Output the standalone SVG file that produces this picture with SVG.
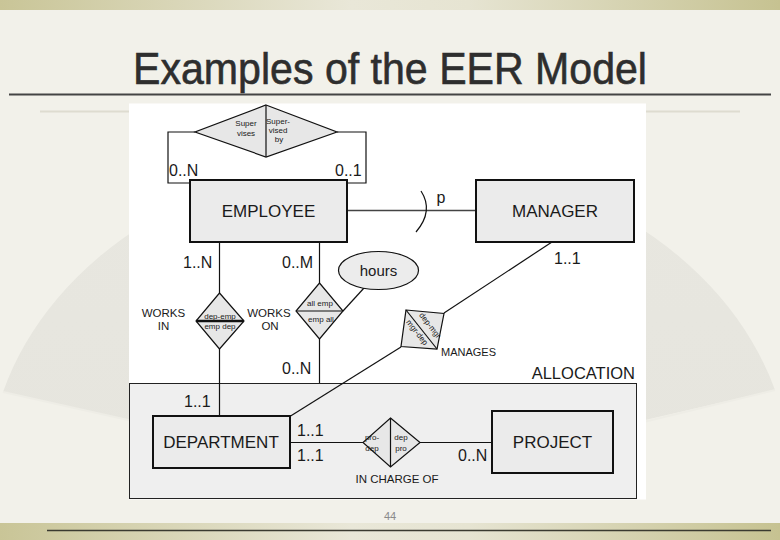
<svg xmlns="http://www.w3.org/2000/svg" width="780" height="540" viewBox="0 0 780 540">
<defs>
<linearGradient id="band" x1="0" y1="0" x2="1" y2="0">
<stop offset="0" stop-color="#c9c597"/>
<stop offset="0.45" stop-color="#e9e7d8"/>
<stop offset="0.6" stop-color="#e6e4d2"/>
<stop offset="1" stop-color="#c6c291"/>
</linearGradient>
<linearGradient id="fanG" x1="0" y1="0" x2="0" y2="1">
<stop offset="0" stop-color="#e8e7e0"/>
<stop offset="1" stop-color="#e6e5de"/>
</linearGradient>
<style>
text{font-family:"Liberation Sans",Arial,sans-serif;fill:#1a1a1a}
.card{font-size:16px}
.ent{font-size:17px;text-anchor:middle}
.tiny{font-size:8px;text-anchor:middle}
.sm{font-size:11.5px;text-anchor:middle}
.box{fill:#ebebeb;stroke:#111;stroke-width:2}
.dia{fill:#e7e7e7;stroke:#111;stroke-width:1.2}
.ln{stroke:#111;stroke-width:1.2;fill:none}
</style>
</defs>
<!-- background -->
<rect x="0" y="0" width="780" height="540" fill="#f2f1ea"/>
<path d="M3 392 A402 325 0 0 1 775 390 L390 479 Z" fill="url(#fanG)"/>
<path d="M3 392 L128 420 L390 479 L652 420 L775 390" fill="none" stroke="#eeede6" stroke-width="2"/>
<line x1="40" y1="111.5" x2="740" y2="111.5" stroke="#dedcd0" stroke-width="2"/>
<rect x="0" y="0" width="780" height="10" fill="url(#band)"/>
<rect x="0" y="523" width="780" height="17" fill="url(#band)"/>
<line x1="47" y1="530.5" x2="771" y2="530.5" stroke="#3a3a30" stroke-width="1.5"/>
<text x="390" y="84" font-size="45" text-anchor="middle" textLength="514" lengthAdjust="spacingAndGlyphs" style="fill:#2e2e2e;stroke:#2e2e2e;stroke-width:0.6">Examples of the EER Model</text>
<line x1="9" y1="94.5" x2="771" y2="94.5" stroke="#444" stroke-width="2"/>
<text x="390" y="520" font-size="11" text-anchor="middle" style="fill:#8a8a8a">44</text>
<!-- white panel -->
<rect x="129" y="103.5" width="517" height="396" fill="#ffffff"/>
<!-- ALLOCATION aggregation -->
<g id="allocation">
<rect x="129.5" y="383.5" width="507" height="115" fill="#efefef" stroke="#222" stroke-width="1"/>
<text x="635" y="379" font-size="16.5" text-anchor="end">ALLOCATION</text>
</g>
<!-- connectors -->
<g id="connectors">
<polyline class="ln" points="195,132 168,132 168,183 190,183"/>
<polyline class="ln" points="337,132 366,132 366,183 348,183"/>
<line x1="348" y1="210.5" x2="476" y2="210.5" stroke="#444" stroke-width="1.6"/>
<path d="M421 191 Q434 211 416 232" class="ln"/>
<line class="ln" x1="219.5" y1="242" x2="219.5" y2="293"/>
<line class="ln" x1="219.5" y1="349" x2="219.5" y2="416"/>
<line class="ln" x1="319.5" y1="242" x2="319.5" y2="283"/>
<line class="ln" x1="319.5" y1="339" x2="319.5" y2="383"/>
<line class="ln" x1="343" y1="311" x2="364" y2="288"/>
<line class="ln" x1="552" y1="242" x2="444" y2="313"/>
<line class="ln" x1="401" y1="347" x2="289" y2="417"/>
<line class="ln" x1="290" y1="442.5" x2="363" y2="442.5"/>
<line class="ln" x1="420" y1="442.5" x2="492" y2="442.5"/>
</g>
<!-- Supervises -->
<g id="supervises">
<polygon class="dia" points="266,105 337,132 266,157 195,132"/>
<line class="ln" x1="266" y1="105" x2="266" y2="157"/>
<text class="tiny" x="246" y="126">Super</text>
<text class="tiny" x="246" y="136">vises</text>
<text class="tiny" x="278" y="124">Super-</text>
<text class="tiny" x="278" y="133">vised</text>
<text class="tiny" x="279" y="142">by</text>
<text class="card" x="169" y="176">0..N</text>
<text class="card" x="335" y="176">0..1</text>
</g>
<g id="employee">
<rect class="box" x="190" y="180" width="157" height="62"/>
<text class="ent" x="268.5" y="217">EMPLOYEE</text>
</g>
<g id="manager">
<rect class="box" x="476" y="180" width="158" height="62"/>
<text class="ent" x="555" y="217">MANAGER</text>
<text class="card" x="441" y="203" text-anchor="middle">p</text>
</g>
<g id="works-in">
<polygon class="dia" points="219.5,293 244,321 219.5,349 196,321"/>
<line x1="196" y1="321" x2="244" y2="321" stroke="#111" stroke-width="2.5"/>
<text class="tiny" x="220" y="318.5" font-size="8.5">dep-emp</text>
<text class="tiny" x="220" y="328.5" font-size="8.5">emp dep</text>
<text class="sm" x="163.5" y="317">WORKS</text>
<text class="sm" x="163.5" y="330">IN</text>
<text class="card" x="183" y="268">1..N</text>
</g>
<g id="works-on">
<polygon class="dia" points="319.5,283 343,311 319.5,339 296,311"/>
<line class="ln" x1="296" y1="311" x2="343" y2="311"/>
<text class="tiny" x="320" y="306" font-size="8.5">all emp</text>
<text class="tiny" x="321" y="322" font-size="8.5">emp all</text>
<text class="sm" x="269" y="317">WORKS</text>
<text class="sm" x="270" y="330">ON</text>
<text class="card" x="282" y="268">0..M</text>
<text class="card" x="282" y="374">0..N</text>
</g>
<g id="hours">
<ellipse cx="378.5" cy="270.5" rx="40" ry="19" fill="#ececec" stroke="#111" stroke-width="1.2"/>
<text x="378.5" y="276" font-size="15" text-anchor="middle">hours</text>
</g>
<g id="manages">
<polygon class="dia" points="406,310 444,313.5 437,349 401,346.5"/>
<line class="ln" x1="406" y1="310" x2="437" y2="349"/>
<text class="tiny" font-size="6.5" transform="translate(428,327) rotate(52)" x="0" y="0">dep-mgr</text>
<text class="tiny" font-size="6.5" transform="translate(415,334) rotate(52)" x="0" y="0">mgr-dep</text>
<text x="441" y="356" font-size="11">MANAGES</text>
<text class="card" x="554" y="264">1..1</text>
</g>
<g id="department">
<rect class="box" x="153" y="416" width="137" height="52"/>
<text class="ent" x="221" y="448">DEPARTMENT</text>
<text class="card" x="184" y="407">1..1</text>
<text class="card" x="297" y="436">1..1</text>
<text class="card" x="297" y="461">1..1</text>
</g>
<g id="in-charge-of">
<polygon class="dia" points="390.5,418 420,442.5 390.5,467 363,442.5"/>
<line class="ln" x1="390.5" y1="418" x2="390.5" y2="467"/>
<text class="tiny" x="372" y="440">pro-</text>
<text class="tiny" x="372" y="451">dep</text>
<text class="tiny" x="401" y="440">dep</text>
<text class="tiny" x="401" y="451">pro</text>
<text class="sm" x="397" y="483">IN CHARGE OF</text>
</g>
<g id="project">
<rect class="box" x="492" y="411" width="121" height="62"/>
<text class="ent" x="552.5" y="448">PROJECT</text>
<text class="card" x="458" y="461">0..N</text>
</g>
</svg>
